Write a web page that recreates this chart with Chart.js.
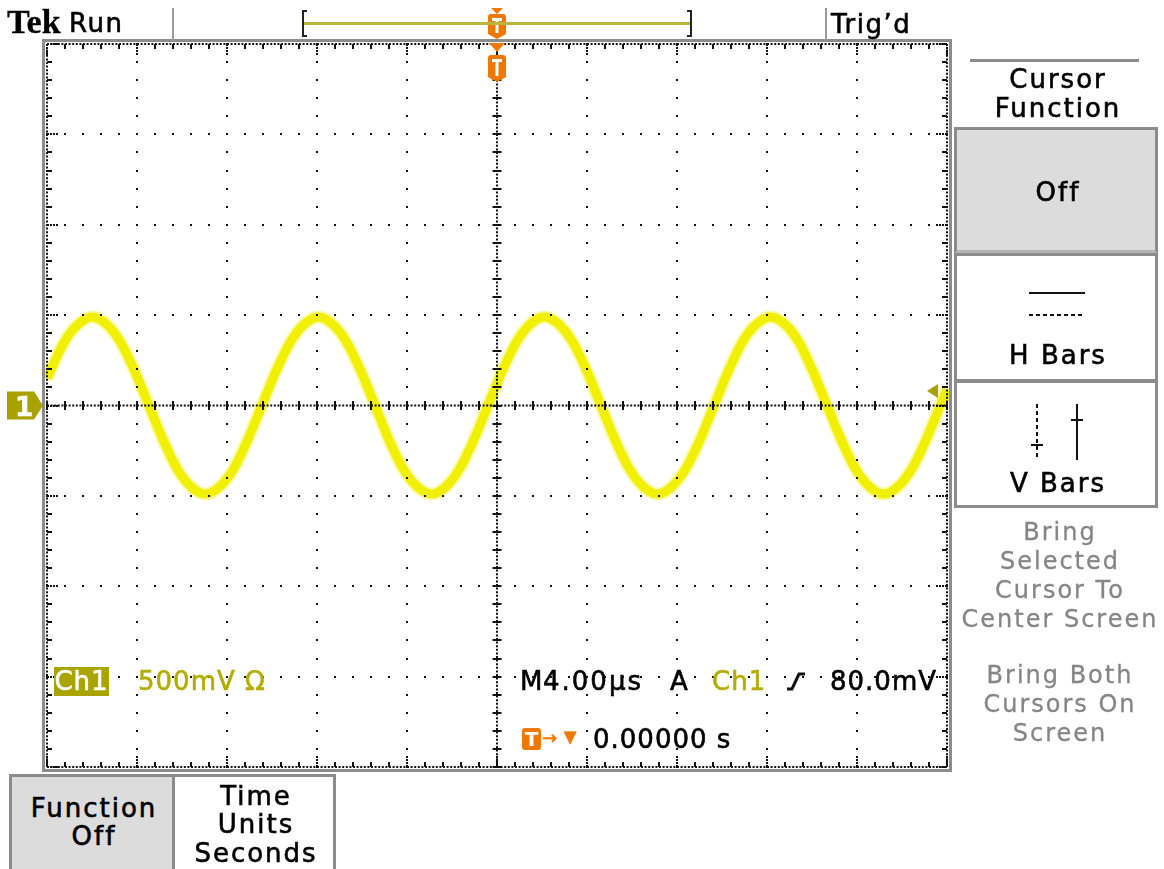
<!DOCTYPE html>
<html>
<head>
<meta charset="utf-8">
<title>Tek scope - Cursor Function</title>
<script src="https://cdn.jsdelivr.net/npm/chart.js@4.4.1/dist/chart.umd.min.js"></script>
<style>
  html, body { margin: 0; padding: 0; background: #fff; }
  #scope { position: relative; width: 1164px; height: 869px; overflow: hidden; font-family: "DejaVu Sans", sans-serif; color: #000; }
  #scope canvas { position: absolute; left: 0; top: 0; }
  .t { position: absolute; white-space: nowrap; font-size: 26px; line-height: 26px; letter-spacing: 2px; -webkit-text-stroke: 0.6px currentColor; }
  .c { text-align: center; padding-left: 2px; }
  .g { font-size: 24px; line-height: 24px; color: #858585; -webkit-text-stroke: 0.3px currentColor; }
  .olive { color: #b3ad00; }
  .box { position: absolute; box-sizing: border-box; border: 3px solid #8c8c8c; }
  .sep { position: absolute; width: 2px; background: #9a9a9a; }
  .ink { position: absolute; background: #222; }
</style>
</head>
<body>
<div id="scope">
  <canvas id="myChart" width="1164" height="869"></canvas>

  <!-- header -->
  <div class="t" style="left:7px;top:5px;font-family:'Liberation Serif',serif;font-weight:bold;font-size:34px;line-height:34px;letter-spacing:0;-webkit-text-stroke:0.3px #000;">Tek</div>
  <div class="t" style="left:69px;top:10px;letter-spacing:1.5px;">Run</div>
  <div class="sep" style="left:172px;top:8px;height:33px;"></div>
  <div class="ink" style="left:302px;top:10px;width:2px;height:27px;"></div>
  <div class="ink" style="left:302px;top:10px;width:5px;height:2px;"></div>
  <div class="ink" style="left:302px;top:35px;width:5px;height:2px;"></div>
  <div style="position:absolute;left:304px;top:22px;width:386px;height:3px;background:#b9b63c;"></div>
  <div class="ink" style="left:690px;top:10px;width:2px;height:27px;"></div>
  <div class="ink" style="left:687px;top:10px;width:5px;height:2px;"></div>
  <div class="ink" style="left:687px;top:35px;width:5px;height:2px;"></div>
  <div class="sep" style="left:825px;top:8px;height:33px;"></div>
  <div class="t" style="left:831px;top:11px;letter-spacing:1.5px;">Trig’d</div>

  <!-- side menu -->
  <div style="position:absolute;left:970px;top:59px;width:169px;height:3px;background:#8c8c8c;"></div>
  <div class="t c" style="left:954px;width:204px;top:66px;">Cursor</div>
  <div class="t c" style="left:954px;width:204px;top:95px;">Function</div>
  <div class="box" style="left:954px;top:127px;width:204px;height:128px;background:#dcdcdc;border-bottom:5px solid #b4b4b4;"></div>
  <div class="box" style="left:954px;top:253px;width:204px;height:129px;background:#fff;"></div>
  <div class="box" style="left:954px;top:380px;width:204px;height:128px;background:#fff;"></div>
  <div class="t c" style="left:954px;width:204px;top:179px;">Off</div>
  <svg style="position:absolute;left:1026px;top:288px;" width="62" height="32">
    <line x1="3" y1="5" x2="59" y2="5" stroke="#111" stroke-width="2"/>
    <line x1="3" y1="27" x2="59" y2="27" stroke="#111" stroke-width="2" stroke-dasharray="4 3"/>
  </svg>
  <div class="t c" style="left:954px;width:204px;top:342px;">H Bars</div>
  <svg style="position:absolute;left:1025px;top:400px;" width="60" height="64">
    <line x1="12" y1="4" x2="12" y2="60" stroke="#111" stroke-width="2" stroke-dasharray="4 3"/>
    <line x1="6" y1="45" x2="18" y2="45" stroke="#111" stroke-width="2"/>
    <line x1="52" y1="4" x2="52" y2="60" stroke="#111" stroke-width="2"/>
    <line x1="46" y1="20" x2="58" y2="20" stroke="#111" stroke-width="2"/>
  </svg>
  <div class="t c" style="left:954px;width:204px;top:470px;">V Bars</div>
  <div class="t c g" style="left:954px;width:208px;top:520px;">Bring</div>
  <div class="t c g" style="left:954px;width:208px;top:549px;">Selected</div>
  <div class="t c g" style="left:954px;width:208px;top:578px;">Cursor To</div>
  <div class="t c g" style="left:954px;width:208px;top:607px;">Center Screen</div>
  <div class="t c g" style="left:954px;width:208px;top:663px;">Bring Both</div>
  <div class="t c g" style="left:954px;width:208px;top:692px;">Cursors On</div>
  <div class="t c g" style="left:954px;width:208px;top:721px;">Screen</div>

  <!-- channel marker label -->
  <div class="t" style="left:15px;top:394px;color:#fff;font-weight:bold;letter-spacing:0;">1</div>

  <!-- readouts inside the graticule -->
  <div class="t" style="left:54px;top:667px;width:55px;height:29px;line-height:29px;background:#aaa400;color:#fff;text-align:center;letter-spacing:1px;">Ch1</div>
  <div class="t olive" style="left:138px;top:668px;letter-spacing:1px;">500mV Ω</div>
  <div class="t" style="left:520px;top:668px;">M</div>
  <div class="t" style="left:543px;top:668px;">4.00µs</div>
  <div class="t" style="left:670px;top:668px;">A</div>
  <div class="t olive" style="left:712px;top:668px;letter-spacing:1px;">Ch1</div>
  <svg style="position:absolute;left:786px;top:671px;" width="20" height="21">
    <path d="M1 18 H6 L13 3 H19" fill="none" stroke="#111" stroke-width="3"/>
  </svg>
  <div class="t" style="left:830px;top:668px;letter-spacing:1px;">80.0mV</div>
  <div class="t" style="left:522px;top:728px;width:19px;height:22px;line-height:22px;background:#f07800;color:#fff;border-radius:3px;text-align:center;font-weight:bold;font-size:20px;letter-spacing:0;-webkit-text-stroke:0;">T</div>
  <div class="t" style="left:542px;top:729px;font-size:18px;line-height:18px;color:#f07800;letter-spacing:0;">→</div>
  <div class="t" style="left:564px;top:729px;font-size:16px;line-height:16px;color:#f07800;letter-spacing:0;">▼</div>
  <div class="t" style="left:593px;top:726px;letter-spacing:1px;">0.00000 s</div>

  <!-- bottom menu -->
  <div class="box" style="left:9px;top:774px;width:166px;height:110px;background:#dcdcdc;"></div>
  <div class="box" style="left:172px;top:774px;width:164px;height:110px;background:#fff;"></div>
  <div class="t c" style="left:9px;width:166px;top:795px;">Function</div>
  <div class="t c" style="left:9px;width:166px;top:823px;">Off</div>
  <div class="t c" style="left:172px;width:164px;top:783px;">Time</div>
  <div class="t c" style="left:172px;width:164px;top:811px;">Units</div>
  <div class="t c" style="left:172px;width:164px;top:840px;">Seconds</div>
</div>

<script>
// horizontal: 4.00 µs/div, 10 divisions; vertical: 500 mV/div, 8 divisions
const X_MIN = -20, X_MAX = 20, X_DIV = 4;
const Y_MIN = -2, Y_MAX = 2, Y_DIV = 0.5;
const TRIG_TIME = 0;
const TRIG_LEVEL = 0.08;

// Ch1 trace (time in µs, level in V)
const timeUs = [
    -20.00,
    -19.24, -18.61, -17.98, -17.36, -16.73, -16.10, -15.47, -14.84, -14.22, -13.59, -12.96, -12.33, -11.70, -11.08, -10.45, -9.82,
    -9.19, -8.56, -7.94, -7.31, -6.68, -6.05, -5.42, -4.80, -4.17, -3.54, -2.91, -2.28, -1.66, -1.03, -0.40, 0.23,
    0.86, 1.48, 2.11, 2.74, 3.37, 4.00, 4.62, 5.25, 5.88, 6.51, 7.14, 7.76, 8.39, 9.02, 9.65, 10.28,
    10.90, 11.53, 12.16, 12.79, 13.42, 14.04, 14.67, 15.30, 15.93, 16.56, 17.18, 17.81, 18.44, 19.07, 19.70,
    20.00
];
const ch1Volts = [
    0.15,
    0.35, 0.45, 0.49, 0.45, 0.35, 0.19, 0.00, -0.19, -0.35, -0.45, -0.49, -0.45, -0.35, -0.19, 0.00, 0.19,
    0.35, 0.45, 0.49, 0.45, 0.35, 0.19, 0.00, -0.19, -0.35, -0.45, -0.49, -0.45, -0.35, -0.19, 0.00, 0.19,
    0.35, 0.45, 0.49, 0.45, 0.35, 0.19, 0.00, -0.19, -0.35, -0.45, -0.49, -0.45, -0.35, -0.19, 0.00, 0.19,
    0.35, 0.45, 0.49, 0.45, 0.35, 0.19, 0.00, -0.19, -0.35, -0.45, -0.49, -0.45, -0.35, -0.19, 0.00,
    0.09
];

const ORANGE = '#f07800';
const OLIVE = '#a8a200';

function badge (ctx, cx, top, h) {
    const w = 18;
    ctx.fillStyle = ORANGE;
    ctx.beginPath();
    ctx.moveTo(cx - w / 2, top + 3);
    ctx.quadraticCurveTo(cx - w / 2, top, cx - w / 2 + 3, top);
    ctx.lineTo(cx + w / 2 - 3, top);
    ctx.quadraticCurveTo(cx + w / 2, top, cx + w / 2, top + 3);
    ctx.lineTo(cx + w / 2, top + h - 5);
    ctx.lineTo(cx, top + h);
    ctx.lineTo(cx - w / 2, top + h - 5);
    ctx.closePath();
    ctx.fill();
    ctx.fillStyle = '#fff';
    ctx.fillRect(cx - 5, top + 4, 10, 3);
    ctx.fillRect(cx - 1.5, top + 4, 3, h - 10);
}

function triangleDown (ctx, cx, top, w, h) {
    ctx.beginPath();
    ctx.moveTo(cx - w / 2, top);
    ctx.lineTo(cx + w / 2, top);
    ctx.lineTo(cx, top + h);
    ctx.closePath();
    ctx.fill();
}

const graticule = {
    id: 'graticule',
    afterDatasetsDraw (chart) {
        const { ctx, chartArea: a, scales } = chart;
        const xs = scales.x, ys = scales.y;
        const xMinor = [], yMinor = [];
        for (let i = 0; i <= 50; i++) xMinor.push(xs.getPixelForValue(X_MIN + i * X_DIV / 5));
        for (let i = 0; i <= 40; i++) yMinor.push(ys.getPixelForValue(Y_MIN + i * Y_DIV / 5));
        const cx = xs.getPixelForValue(0);
        const cy = ys.getPixelForValue(0);

        ctx.save();
        ctx.strokeStyle = '#8c8c8c';
        ctx.lineWidth = 3;
        ctx.strokeRect(a.left - 3.5, a.top - 3.5, a.width + 7, a.height + 7);

        ctx.fillStyle = '#111';
        const dot = (px, py) => ctx.fillRect(Math.round(px) - 1, Math.round(py) - 1, 2, 2);

        // inner division lines, one dot every fifth of a division
        for (let i = 1; i < 10; i++) {
            if (i === 5) continue;
            const px = xs.getPixelForValue(X_MIN + i * X_DIV);
            yMinor.forEach(py => dot(px, py));
        }
        for (let j = 1; j < 8; j++) {
            if (j === 4) continue;
            const py = ys.getPixelForValue(Y_MIN + j * Y_DIV);
            xMinor.forEach(px => dot(px, py));
        }

        // frame edges and centre cross: fine dotted lines
        ctx.strokeStyle = '#111';
        ctx.lineWidth = 2;
        ctx.setLineDash([2, 1.6]);
        const line = (x1, y1, x2, y2) => {
            ctx.beginPath();
            ctx.moveTo(x1, y1);
            ctx.lineTo(x2, y2);
            ctx.stroke();
        };
        line(a.left, a.top, a.right, a.top);
        line(a.left, a.bottom, a.right, a.bottom);
        line(a.left, a.top, a.left, a.bottom);
        line(a.right, a.top, a.right, a.bottom);
        line(a.left, cy, a.right, cy);
        line(cx, a.top, cx, a.bottom);
        ctx.setLineDash([]);

        // tick marks
        xMinor.forEach((px, i) => {
            const major = i % 5 === 0;
            const x0 = Math.round(px) - 1;
            if (major) {
                for (let k = 0; k < 12; k += 3) {
                    ctx.fillRect(x0, a.top + k, 2, 2);
                    ctx.fillRect(x0, a.bottom - k - 2, 2, 2);
                }
            } else {
                ctx.fillRect(x0, a.top, 2, 5);
                ctx.fillRect(x0, a.bottom - 5, 2, 5);
            }
            ctx.fillRect(x0, cy - 4.5, 2, 9);
        });
        yMinor.forEach((py, j) => {
            const major = j % 5 === 0;
            const y0 = Math.round(py) - 1;
            if (major) {
                for (let k = 0; k < 12; k += 3) {
                    ctx.fillRect(a.left + k, y0, 2, 2);
                    ctx.fillRect(a.right - k - 2, y0, 2, 2);
                }
            } else {
                ctx.fillRect(a.left, y0, 5, 2);
                ctx.fillRect(a.right - 5, y0, 5, 2);
            }
            ctx.fillRect(cx - 4.5, y0, 9, 2);
        });
        ctx.restore();
    },
    afterDraw (chart) {
        const { ctx, chartArea: a, scales } = chart;
        const tx = scales.x.getPixelForValue(TRIG_TIME);
        const gy = scales.y.getPixelForValue(0);
        const ly = scales.y.getPixelForValue(TRIG_LEVEL);
        ctx.save();

        // trigger position in record bar and on screen
        ctx.fillStyle = ORANGE;
        triangleDown(ctx, tx, 8, 12, 6);
        badge(ctx, tx, 14, 25);
        ctx.fillStyle = ORANGE;
        triangleDown(ctx, tx, a.top - 1, 16, 9);
        badge(ctx, tx, a.top + 11, 27);

        // channel 1 ground marker
        ctx.fillStyle = OLIVE;
        ctx.beginPath();
        ctx.moveTo(7, gy - 14);
        ctx.lineTo(34, gy - 14);
        ctx.lineTo(43, gy);
        ctx.lineTo(34, gy + 14);
        ctx.lineTo(7, gy + 14);
        ctx.closePath();
        ctx.fill();

        // trigger level marker
        ctx.beginPath();
        ctx.moveTo(a.right - 20, ly);
        ctx.lineTo(a.right - 9, ly - 7);
        ctx.lineTo(a.right - 9, ly + 7);
        ctx.closePath();
        ctx.fill();
        ctx.restore();
    }
};

const points = timeUs.map((t, i) => ({ x: t, y: ch1Volts[i] }));

new Chart(document.getElementById('myChart'), {
    type: 'line',
    data: {
        datasets: [{
            label: 'Ch1 halo',
            data: points,
            borderColor: 'rgba(242, 242, 0, 0.35)',
            borderWidth: 13,
            pointRadius: 0,
            cubicInterpolationMode: 'monotone',
            clip: 2
        }, {
            label: 'Ch1',
            data: points,
            borderColor: '#f0f000',
            borderWidth: 9,
            pointRadius: 0,
            cubicInterpolationMode: 'monotone',
            clip: 2
        }]
    },
    options: {
        responsive: false,
        animation: false,
        devicePixelRatio: 1,
        events: [],
        layout: { padding: { left: 47, top: 44, right: 217, bottom: 102 } },
        plugins: { legend: { display: false }, tooltip: { enabled: false } },
        scales: {
            x: { type: 'linear', min: X_MIN, max: X_MAX, display: false },
            y: { type: 'linear', min: Y_MIN, max: Y_MAX, display: false }
        }
    },
    plugins: [graticule]
});
</script>
</body>
</html>
